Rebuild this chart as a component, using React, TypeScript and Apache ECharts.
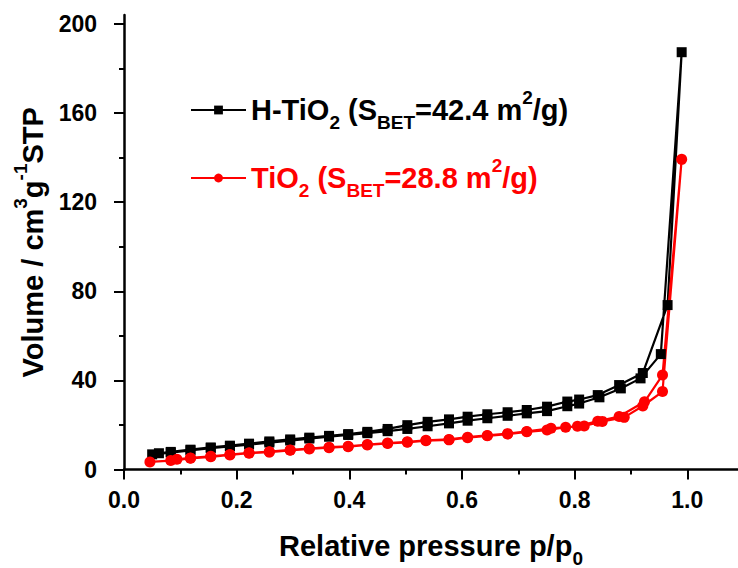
import React, { useEffect, useRef } from 'react';
import * as echarts from 'echarts';

const FONT = '"Liberation Sans", Arial, Helvetica, sans-serif';

// H-TiO2: adsorption branch then desorption branch (p/p0, volume)
const hTiO2Pressure = [
  0.050, 0.083, 0.118, 0.154, 0.188, 0.222, 0.258, 0.295, 0.329, 0.364, 0.398, 0.432, 0.468, 0.503,
  0.539, 0.577, 0.610, 0.645, 0.681, 0.715, 0.751, 0.787, 0.808, 0.844, 0.882, 0.917, 0.953, 0.990,
  0.965, 0.921, 0.879, 0.841, 0.808, 0.787, 0.751, 0.715, 0.681, 0.645, 0.610, 0.577, 0.539, 0.503,
  0.468, 0.432, 0.398, 0.364, 0.329, 0.295, 0.258, 0.222, 0.188, 0.154, 0.118, 0.083, 0.062,
];
const hTiO2Volume = [
  6.8, 7.6, 8.6, 9.6, 10.4, 11.2, 12.1, 13.0, 13.9, 14.7, 15.5, 16.3, 17.2, 18.2,
  19.4, 20.7, 21.9, 23.0, 24.1, 25.2, 26.2, 28.4, 29.6, 32.4, 36.4, 40.9, 51.8, 187.3,
  73.8, 43.3, 37.9, 33.4, 31.4, 30.5, 28.2, 26.7, 25.7, 24.8, 23.7, 22.5, 21.4, 19.9,
  18.2, 16.9, 15.9, 15.1, 14.3, 13.5, 12.6, 11.6, 10.7, 9.9, 8.9, 7.9, 7.3,
];

// TiO2: adsorption branch then desorption branch
const tiO2Pressure = [
  0.046, 0.083, 0.118, 0.154, 0.188, 0.222, 0.258, 0.295, 0.329, 0.364, 0.398, 0.432, 0.468, 0.503,
  0.536, 0.577, 0.610, 0.645, 0.681, 0.715, 0.751, 0.784, 0.817, 0.849, 0.888, 0.921, 0.956, 0.990,
  0.956, 0.924, 0.879, 0.841, 0.805, 0.758, 0.715, 0.681, 0.645, 0.610, 0.577, 0.536, 0.503,
  0.468, 0.432, 0.398, 0.364, 0.329, 0.295, 0.258, 0.222, 0.188, 0.154, 0.118, 0.094,
];
const tiO2Volume = [
  3.4, 4.0, 5.0, 5.7, 6.5, 7.3, 7.8, 8.6, 9.2, 9.8, 10.2, 11.0, 11.7, 12.2,
  12.9, 13.3, 14.3, 15.1, 15.9, 16.9, 17.7, 19.0, 19.5, 21.6, 23.4, 28.5, 35.0, 139.2,
  42.4, 30.4, 23.8, 21.7, 19.4, 18.5, 17.1, 16.1, 15.3, 14.5, 13.5, 13.1, 12.4,
  11.9, 11.2, 10.4, 10.0, 9.4, 8.8, 8.0, 7.5, 6.7, 5.9, 5.2, 4.6,
];

const xMajorTicks = [0, 0.2, 0.4, 0.6, 0.8, 1.0];
const xMinorTicks = [0.1, 0.3, 0.5, 0.7, 0.9];
const yMajorTicks = [0, 40, 80, 120, 160, 200];
const yMinorTicks = [20, 60, 100, 140, 180];

const X_MAX = 1.09;
const Y_MAX = 204;

function mk(color: string, size: number, extra: any = {}) {
  return { fontFamily: FONT, fontWeight: 'bold', fontSize: size, color, ...extra };
}

function richSet(color: string) {
  return {
    a: mk(color, 29, { lineHeight: 44, verticalAlign: 'middle' }),
    s: mk(color, 19, { lineHeight: 26, verticalAlign: 'bottom' }),
    p: mk(color, 19, { lineHeight: 10, verticalAlign: 'top' }),
  };
}

export default function App() {
  const ref = useRef<HTMLDivElement>(null);

  useEffect(() => {
    if (!ref.current) return;
    const chart = echarts.init(ref.current, undefined, { renderer: 'svg' });

    const black = richSet('#000000');
    const red = richSet('#ff0000');
    const legendRich: any = {
      ka: black.a, ks: black.s, kp: black.p,
      ra: red.a, rs: red.s, rp: red.p,
    };

    const hData = hTiO2Pressure.map((p, i) => [p, hTiO2Volume[i]]);
    const tData = tiO2Pressure.map((p, i) => [p, tiO2Volume[i]]);

    const axisLineStyle = { color: '#000', width: 2.5 };

    const option: any = {
      animation: false,
      backgroundColor: '#ffffff',
      grid: { left: 124, right: 0, top: 15, bottom: 98.5, containLabel: false, outerBoundsMode: 'none' },
      legend: {
        orient: 'vertical',
        left: 190,
        top: 88,
        padding: 0,
        itemGap: 24,
        itemWidth: 55,
        itemHeight: 11,
        data: ['H-TiO2', 'TiO2'],
        textStyle: { rich: legendRich },
        formatter: (name: string) =>
          name === 'H-TiO2'
            ? '{ka|H-TiO}{ks|2}{ka| (S}{ks|BET}{ka|=42.4 m}{kp|2}{ka|/g)}'
            : '{ra|TiO}{rs|2}{ra| (S}{rs|BET}{ra|=28.8 m}{rp|2}{ra|/g)}',
      },
      xAxis: [
        {
          type: 'value',
          min: 0,
          max: X_MAX,
          position: 'bottom',
          name: '{a|Relative pressure p/p}{s|0}',
          nameLocation: 'middle',
          nameGap: 54,
          nameTextStyle: {
            rich: {
              a: mk('#000', 29, { lineHeight: 44, verticalAlign: 'middle' }),
              s: mk('#000', 19, { lineHeight: 28, verticalAlign: 'bottom' }),
            },
          },
          axisLine: { show: true, onZero: false, lineStyle: axisLineStyle },
          axisTick: {
            show: true,
            length: 10,
            lineStyle: { color: '#000', width: 2 },
            customValues: xMajorTicks,
          },
          axisLabel: {
            customValues: xMajorTicks,
            margin: 18,
            fontFamily: FONT,
            fontWeight: 'bold',
            fontSize: 23,
            lineHeight: 24,
            color: '#000',
            formatter: (v: number) => v.toFixed(1),
          },
          splitLine: { show: false },
        },
        {
          type: 'value',
          min: 0,
          max: X_MAX,
          position: 'bottom',
          axisLine: { show: false },
          axisTick: {
            show: true,
            length: 5,
            lineStyle: { color: '#000', width: 2 },
            customValues: xMinorTicks,
          },
          axisLabel: { show: false },
          splitLine: { show: false },
        },
      ],
      yAxis: [
        {
          type: 'value',
          min: 0,
          max: Y_MAX,
          position: 'left',
          name: '{a|Volume / cm}{p|3}{a|g}{p|-1}{a|STP}',
          nameLocation: 'middle',
          nameGap: 65,
          nameTextStyle: {
            rich: {
              a: mk('#000', 29, { lineHeight: 44, verticalAlign: 'middle' }),
              p: mk('#000', 19, { lineHeight: 10, verticalAlign: 'top' }),
            },
          },
          axisLine: { show: true, onZero: false, lineStyle: axisLineStyle },
          axisTick: {
            show: true,
            length: 10,
            lineStyle: { color: '#000', width: 2 },
            customValues: yMajorTicks,
          },
          axisLabel: {
            customValues: yMajorTicks,
            margin: 27,
            fontFamily: FONT,
            fontWeight: 'bold',
            fontSize: 23,
            color: '#000',
          },
          splitLine: { show: false },
        },
        {
          type: 'value',
          min: 0,
          max: Y_MAX,
          position: 'left',
          axisLine: { show: false },
          axisTick: {
            show: true,
            length: 5,
            lineStyle: { color: '#000', width: 2 },
            customValues: yMinorTicks,
          },
          axisLabel: { show: false },
          splitLine: { show: false },
        },
      ],
      series: [
        {
          name: 'H-TiO2',
          type: 'line',
          data: hData,
          symbol: 'rect',
          symbolSize: 10,
          showAllSymbol: true,
          lineStyle: { color: '#000000', width: 2.2 },
          itemStyle: { color: '#000000' },
        },
        {
          name: 'TiO2',
          type: 'line',
          data: tData,
          symbol: 'circle',
          symbolSize: 11,
          showAllSymbol: true,
          lineStyle: { color: '#ff0000', width: 2.2 },
          itemStyle: { color: '#ff0000' },
        },
      ],
    };

    chart.setOption(option);
    return () => chart.dispose();
  }, []);

  return (
    <div
      ref={ref}
      style={{ position: 'fixed', left: 0, top: 0, width: 738, height: 568, background: '#fff' }}
    />
  );
}
